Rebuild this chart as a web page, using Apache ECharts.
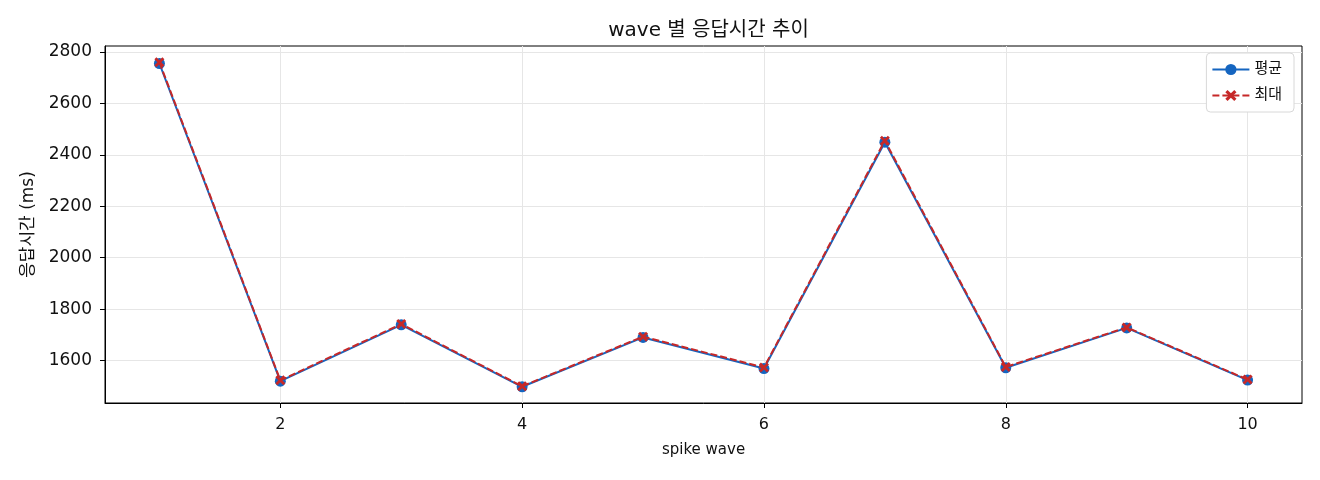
<!DOCTYPE html>
<html>
<head>
<meta charset="utf-8">
<script src="https://cdn.jsdelivr.net/npm/echarts@6/dist/echarts.min.js"></script>
<style>
html,body{margin:0;padding:0;background:#fff;}
#chart{width:1320px;height:480px;}
</style>
</head>
<body>
<div id="chart"></div>
<script>
const waves = [1, 2, 3, 4, 5, 6, 7, 8, 9, 10];
const avgValues = [2755, 1520, 1739, 1498, 1690, 1569, 2449, 1572, 1727, 1524];
const maxValues = [2760, 1523, 1742, 1500, 1693, 1573, 2455, 1575, 1729, 1526];
const xTicks = [2, 4, 6, 8, 10];
const yTicks = [1600, 1800, 2000, 2200, 2400, 2600, 2800];

const FONT = 'DejaVu Sans, Noto Sans CJK KR, sans-serif';
const BLUE = '#1565c0';
const RED = '#c62828';
const GRID = '#e6e6e6';
const XPATH = 'path://M2,0 L5,3 L8,0 L10,2 L7,5 L10,8 L8,10 L5,7 L2,10 L0,8 L3,5 L0,2 Z';

const chart = echarts.init(document.getElementById('chart'), null, {renderer: 'canvas'});
chart.setOption({
  animation: false,
  backgroundColor: '#fff',
  title: {
    text: 'wave 별 응답시간 추이',
    left: 703.5, textAlign: 'center', top: 16,
    textStyle: {fontFamily: FONT, fontSize: 20, fontWeight: 'normal', color: '#111'}
  },
  legend: {
    orient: 'vertical', right: 26, top: 53,
    itemWidth: 37, itemHeight: 14, itemGap: 11,
    padding: [9, 12, 9, 5],
    borderColor: '#d8d8d8', borderWidth: 1, borderRadius: 4,
    backgroundColor: '#fff',
    textStyle: {fontFamily: FONT, fontSize: 15, color: '#111'},
    data: ['평균', '최대']
  },
  grid: {
    left: 105, right: 18, top: 46, bottom: 77,
    show: true, borderColor: '#000', borderWidth: 1, backgroundColor: 'transparent'
  },
  xAxis: {
    type: 'value', min: 0.55, max: 10.45,
    name: 'spike wave', nameLocation: 'middle', nameGap: 40,
    nameTextStyle: {fontFamily: FONT, fontSize: 15, color: '#111'},
    axisLine: {show: true, lineStyle: {color: '#000', width: 1}},
    axisTick: {show: true, length: 5, customValues: xTicks, lineStyle: {color: '#000'}},
    axisLabel: {customValues: xTicks, margin: 14, fontFamily: FONT, fontSize: 16, color: '#111'},
    splitLine: {show: true, customValues: xTicks, lineStyle: {color: GRID, width: 1}}
  },
  yAxis: {
    type: 'value', min: 1435, max: 2823,
    name: '응답시간 (ms)', nameLocation: 'middle', nameGap: 68, nameRotate: 90,
    nameTextStyle: {fontFamily: FONT, fontSize: 17, color: '#111'},
    axisLine: {show: true, lineStyle: {color: '#000', width: 1}},
    axisTick: {show: true, length: 5, customValues: yTicks, lineStyle: {color: '#000'}},
    axisLabel: {customValues: yTicks, margin: 13, fontFamily: FONT, fontSize: 17, color: '#111',
      formatter: v => String(v)},
    splitLine: {show: true, customValues: yTicks, lineStyle: {color: GRID, width: 1}}
  },
  series: [
    {
      name: '평균', type: 'line',
      data: waves.map((w, i) => [w, avgValues[i]]),
      symbol: 'circle', symbolSize: 11,
      lineStyle: {color: BLUE, width: 2},
      itemStyle: {color: BLUE},
      z: 2
    },
    {
      name: '최대', type: 'line',
      data: waves.map((w, i) => [w, maxValues[i]]),
      symbol: XPATH, symbolSize: 10,
      lineStyle: {color: RED, width: 2, type: [7, 3]},
      itemStyle: {color: RED},
      z: 3
    }
  ]
});
</script>
</body>
</html>
